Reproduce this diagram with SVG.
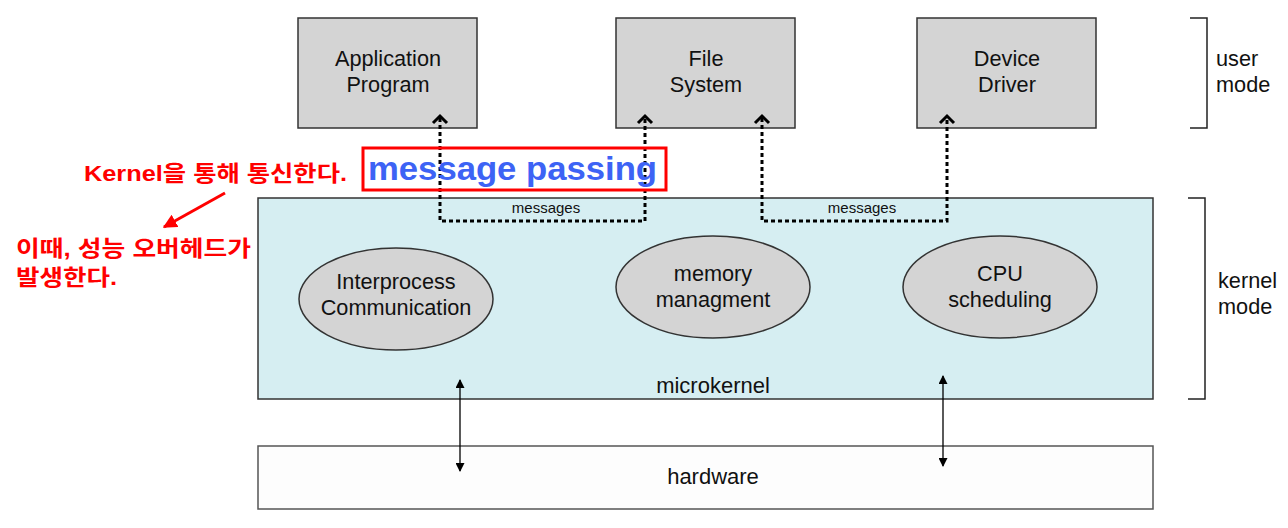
<svg xmlns="http://www.w3.org/2000/svg" width="1288" height="528" viewBox="0 0 1288 528">
<style>
.box{fill:#d4d4d4;stroke:#333;stroke-width:1.5}
.ell{fill:#d4d4d4;stroke:#333;stroke-width:1.5}
.t{font-family:"Liberation Sans",Arial,sans-serif;font-size:21.7px;fill:#111;text-anchor:middle}
.s{font-family:"Liberation Sans",Arial,sans-serif;font-size:15px;fill:#111;text-anchor:middle}
.red{font-family:"Liberation Sans","Noto Sans CJK KR",sans-serif;font-size:22px;font-weight:bold;fill:#f00}
.dot{fill:none;stroke:#000;stroke-width:3;stroke-dasharray:4 3}
.chev{fill:none;stroke:#000;stroke-width:3}
.br{fill:none;stroke:#222;stroke-width:1.5}
.dbl{stroke:#000;stroke-width:1.3;marker-start:url(#ah);marker-end:url(#ah)}
</style>
<defs>
<marker id="ah" viewBox="0 0 10 10" refX="9" refY="5" markerWidth="10" markerHeight="9" orient="auto-start-reverse" markerUnits="userSpaceOnUse"><path d="M0,0 L10,5 L0,10 z" fill="#000"/></marker>
<marker id="ra" viewBox="0 0 10 10" refX="9" refY="5" markerWidth="14" markerHeight="14" orient="auto" markerUnits="userSpaceOnUse"><path d="M0,0 L10,5 L0,10 z" fill="#f00"/></marker>
</defs>
<rect width="1288" height="528" fill="#fff"/>
<g id="microkernel"><rect x="258" y="198" width="895" height="201" fill="#d6eef2" stroke="#333" stroke-width="1.5"/><text class="t" x="713" y="393" style="font-size:22px">microkernel</text></g>
<g id="hardware"><rect x="258" y="446" width="895" height="63" fill="#fdfdfd" stroke="#555" stroke-width="1.5"/><text class="t" x="713" y="484" style="font-size:22px">hardware</text></g>
<g id="app"><rect class="box" x="298" y="18" width="179" height="110"/><text class="t" x="388" y="66">Application</text><text class="t" x="388" y="92">Program</text></g>
<g id="fs"><rect class="box" x="616" y="18" width="179" height="110"/><text class="t" x="706" y="66">File</text><text class="t" x="706" y="92">System</text></g>
<g id="dd"><rect class="box" x="917" y="18" width="179" height="110"/><text class="t" x="1007" y="66">Device</text><text class="t" x="1007" y="92">Driver</text></g>
<g id="ipc"><ellipse class="ell" cx="396" cy="299" rx="97" ry="51"/><text class="t" x="396" y="289">Interprocess</text><text class="t" x="396" y="315">Communication</text></g>
<g id="mem"><ellipse class="ell" cx="713" cy="287" rx="97" ry="51"/><text class="t" x="713" y="281">memory</text><text class="t" x="713" y="307">managment</text></g>
<g id="cpu"><ellipse class="ell" cx="1000" cy="287" rx="97" ry="51"/><text class="t" x="1000" y="281">CPU</text><text class="t" x="1000" y="307">scheduling</text></g>
<g id="modes"><path class="br" d="M1190,18 H1207 V128 H1190"/><text class="t" x="1216" y="66" style="text-anchor:start">user</text><text class="t" x="1216" y="92" style="text-anchor:start">mode</text>
<path class="br" d="M1188,198 H1205 V399 H1188"/><text class="t" x="1218" y="288" style="text-anchor:start">kernel</text><text class="t" x="1218" y="314" style="text-anchor:start">mode</text></g>
<g id="connectors">
<path class="dot" d="M440,118 V221 H645 V118"/><path class="chev" d="M433,123 L440,116 L447,123"/><path class="chev" d="M638,123 L645,116 L652,123"/>
<text class="s" x="546" y="213">messages</text>
<path class="dot" d="M762,118 V221 H947 V118"/><path class="chev" d="M755,123 L762,116 L769,123"/><path class="chev" d="M940,123 L947,116 L954,123"/>
<text class="s" x="862" y="213">messages</text>
<line class="dbl" x1="460" y1="380" x2="460" y2="471"/>
<line class="dbl" x1="943" y1="376" x2="943" y2="466"/>
<line x1="225" y1="193" x2="164" y2="227" stroke="#f00" stroke-width="3" marker-end="url(#ra)"/>
</g>
<g id="annot">
<rect x="363" y="148" width="303" height="42" fill="none" stroke="#f00" stroke-width="3"/>
<text x="368" y="180" textLength="289" lengthAdjust="spacingAndGlyphs" style="font-family:'Liberation Sans',Arial,sans-serif;font-size:33px;font-weight:bold;fill:#3d63f5">message passing</text>
<text class="red" x="84" y="181" textLength="263" lengthAdjust="spacingAndGlyphs">Kernel을 통해 통신한다.</text>
<text class="red" x="16" y="256" textLength="235" lengthAdjust="spacingAndGlyphs">이때, 성능 오버헤드가</text>
<text class="red" x="16" y="285" textLength="101" lengthAdjust="spacingAndGlyphs">발생한다.</text>
</g>
</svg>
